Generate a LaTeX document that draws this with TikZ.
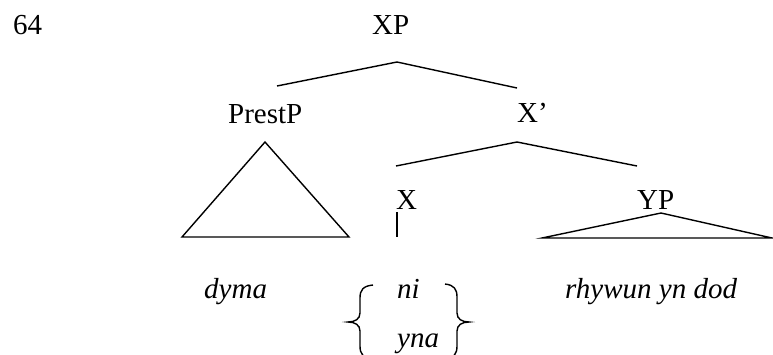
\documentclass[tikz,border=0pt]{standalone}
\usepackage{fontspec}
\setmainfont{Liberation Serif}
\begin{document}
\begin{tikzpicture}[x=1pt,y=-1pt,
  lbl/.style={font=\fontsize{29}{33}\selectfont, inner sep=0pt, anchor=base west},
  ital/.style={lbl, font=\fontsize{29}{33}\selectfont\itshape},
  branch/.style={line width=1.4pt, line join=miter},
  bracepath/.style={line width=1.4pt}]
\useasboundingbox (0,0) rectangle (773,354);
% labels
\node[lbl] (n64) at (13,34) {64};
\node[lbl] (xp) at (372,34) {XP};
\node[lbl] (prestp) at (228,123) {PrestP};
\node[lbl] (xbar) at (517,122) {X’};
\node[lbl] (x) at (396,209) {X};
\node[lbl] (yp) at (637,209) {YP};
\node[ital] (dyma) at (204,298) {dyma};
\node[ital] (ni) at (397,298) {ni};
\node[ital] (yna) at (397,347) {yna};
\node[ital] (rhy) at (565,298) {rhywun yn dod};
% branch points
\coordinate (xpTop) at (397,62);
\coordinate (xpL) at (277,86);
\coordinate (xpR) at (517,88);
\coordinate (xbTop) at (517,142);
\coordinate (xbL) at (396,166);
\coordinate (xbR) at (637,166);
\coordinate (pTop) at (265,142);
\coordinate (pL) at (182,237);
\coordinate (pR) at (349,237);
\coordinate (xTop) at (397,212);
\coordinate (xBot) at (397,237);
\coordinate (yTop) at (661,213);
\coordinate (yL) at (542,238);
\coordinate (yR) at (772,238);
% branches
\draw[branch] (xpL) -- (xpTop) -- (xpR);
\draw[branch] (xbL) -- (xbTop) -- (xbR);
\draw[branch] (pTop) -- (pL) -- (pR) -- cycle;
\draw[branch] (xTop) -- (xBot);
\draw[branch] (yTop) -- (yL) -- (yR) -- cycle;
% braces
\draw[bracepath] (373,285) .. controls (363,286) and (360,290) .. (360,298)
  -- (360,313) .. controls (360,319) and (355,322) .. (348,322)
  .. controls (355,322) and (360,325) .. (360,331)
  -- (360,346) .. controls (360,354) and (363,358) .. (373,359);
\draw[bracepath] (445,284) .. controls (454,285) and (457,289) .. (457,297)
  -- (457,313) .. controls (457,319) and (462,322) .. (469,322)
  .. controls (462,322) and (457,325) .. (457,331)
  -- (457,346) .. controls (457,354) and (454,358) .. (445,359);
\end{tikzpicture}
\end{document}
